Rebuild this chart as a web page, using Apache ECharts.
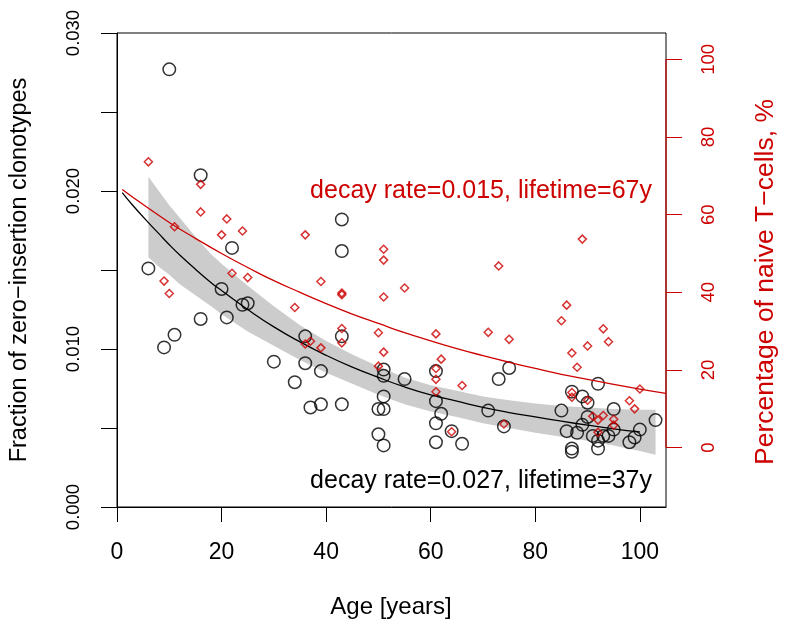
<!DOCTYPE html>
<html><head><meta charset="utf-8">
<script src="https://cdn.jsdelivr.net/npm/echarts@6/dist/echarts.min.js"></script>
<style>html,body{margin:0;padding:0;background:#fff}#c{width:788px;height:629px}</style>
</head><body><div id="c"></div>
<script>
// ---- data ----
const xTicks = [0, 20, 40, 60, 80, 100];
const rightTicks = [0, 20, 40, 60, 80, 100];

// black circles: fraction of zero-insertion clonotypes
const cloneAge = [6, 9, 10, 11, 16, 16, 20, 21, 22, 24, 25, 30, 34, 36, 36, 37, 39, 39, 43, 43, 43, 43,
  50, 50, 51, 51, 51, 51, 51, 55, 61, 61, 61, 61, 62, 64, 66, 71, 73, 74, 75,
  85, 86, 87, 87, 87, 88, 89, 89, 90, 90, 91, 92, 92, 92, 93, 94, 95, 95, 98, 99, 100, 103];
const cloneFrac = [0.0151, 0.0101, 0.0277, 0.0109, 0.0210, 0.0119, 0.0138, 0.0120, 0.0164, 0.0128, 0.0129, 0.0092, 0.0079, 0.0108, 0.0091, 0.0063, 0.0086, 0.0065, 0.0182, 0.0162, 0.0108, 0.0065,
  0.0062, 0.0046, 0.0087, 0.0083, 0.0070, 0.0062, 0.0039, 0.0081, 0.0086, 0.0067, 0.0053, 0.0041, 0.0059, 0.0048, 0.0040, 0.0061, 0.0081, 0.0051, 0.0088,
  0.0061, 0.0048, 0.0073, 0.0037, 0.0035, 0.0047, 0.0070, 0.0052, 0.0066, 0.0057, 0.0045, 0.0078, 0.0037, 0.0042, 0.0045, 0.0045, 0.0062, 0.0049, 0.0041, 0.0044, 0.0049, 0.0055];

// red diamonds: percentage of naive T-cells
const naiveAge = [6, 9, 10, 11, 16, 16, 20, 21, 22, 24, 25, 34, 36, 36, 37, 39, 39, 43, 43, 43, 43,
  50, 50, 51, 51, 51, 51, 55, 61, 61, 61, 61, 62, 64, 66, 71, 73, 74, 75,
  85, 86, 87, 87, 87, 88, 89, 90, 90, 91, 92, 92, 93, 93, 94, 95, 95, 98, 99, 100];
const naivePct = [73.6, 42.9, 39.7, 56.9, 67.8, 60.7, 54.8, 58.9, 44.9, 55.8, 43.8, 36.1, 54.8, 26.7, 27.4, 42.8, 25.7, 39.8, 39.4, 30.7, 27.0,
  29.6, 21.0, 51.1, 48.3, 38.8, 24.6, 41.1, 29.3, 20.4, 17.6, 14.4, 22.8, 4.1, 16.0, 29.7, 46.8, 6.1, 27.9,
  32.7, 36.7, 24.4, 14.2, 13.0, 20.7, 53.7, 26.2, 12.2, 8.1, 7.1, 4.0, 30.6, 8.3, 27.3, 7.3, 5.8, 12.1, 10.0, 15.1];

// black fitted curve
const fitAge  = [1, 3, 6, 8, 10, 12, 15, 18, 20, 25, 30, 35, 40, 45, 50, 55, 60, 65, 70, 75, 80, 85, 90, 95, 100];
const fitFrac = [0.0199, 0.0191, 0.0180, 0.0173, 0.0166, 0.01595, 0.01505, 0.0142, 0.0137, 0.0125, 0.0114, 0.01045, 0.0096, 0.00885, 0.0082, 0.0076, 0.0071, 0.0067, 0.0063, 0.00598, 0.0057, 0.00543, 0.00518, 0.00495, 0.00475];

// grey confidence band
const bandAge   = [6, 8, 10, 12, 15, 18, 20, 25, 30, 35, 40, 45, 50, 55, 60, 65, 70, 75, 80, 85, 90, 95, 100, 103];
const bandUpper = [0.0209, 0.0200, 0.0191, 0.0183, 0.0171, 0.0160, 0.0154, 0.0140, 0.0127, 0.0115, 0.0105, 0.00965, 0.0089, 0.0082, 0.0077, 0.00735, 0.0070, 0.00675, 0.00655, 0.0064, 0.0063, 0.0062, 0.00615, 0.00615];
const bandLower = [0.0158, 0.0152, 0.0147, 0.0141, 0.0134, 0.0127, 0.0122, 0.0111, 0.0102, 0.0093, 0.0085, 0.0078, 0.0071, 0.0065, 0.00605, 0.0057, 0.0053, 0.0050, 0.0047, 0.00445, 0.0042, 0.0039, 0.00355, 0.0033];

// red fitted curve
const naiveFitAge = [1, 5, 10, 15, 20, 25, 30, 35, 40, 45, 50, 55, 60, 65, 70, 75, 80, 85, 90, 95, 100, 105];
const naiveFitPct = [66.5, 62.6, 58.0, 53.9, 50.0, 46.4, 43.0, 40.0, 37.1, 34.4, 32.0, 29.6, 27.5, 25.5, 23.7, 22.0, 20.4, 18.9, 17.6, 16.3, 15.1, 14.0];

const X_MIN = 0, X_MAX = 105;
const YL_MIN = 0, YL_MAX = 0.03, YL_STEP = 0.005;
const YR_MIN = -15.27, YR_MAX = 106.77;

const RED = '#CD0000';
const FONT = '"Liberation Sans", Arial, Helvetica, sans-serif';

const chart = echarts.init(document.getElementById('c'), null, {renderer: 'canvas'});
const zip = (a, b) => a.map((v, i) => [v, b[i]]);

chart.setOption({
  animation: false,
  backgroundColor: '#fff',
  textStyle: {fontFamily: FONT},
  grid: {left: 117, right: 122, top: 33, bottom: 122, show: true, borderColor: '#000', borderWidth: 1, backgroundColor: 'transparent'},
  xAxis: {
    type: 'value', min: X_MIN, max: X_MAX, interval: 20,
    splitLine: {show: false},
    axisLine: {show: true, lineStyle: {color: '#000', width: 1}},
    axisTick: {show: true, length: 15, lineStyle: {color: '#000', width: 1}, customValues: xTicks},
    axisLabel: {show: true, customValues: xTicks, color: '#000', fontSize: 23, margin: 34, fontFamily: FONT}
  },
  yAxis: [{
    type: 'value', min: YL_MIN, max: YL_MAX, interval: YL_STEP, position: 'left',
    splitLine: {show: false},
    axisLine: {show: true, lineStyle: {color: '#000', width: 1}},
    axisTick: {show: true, length: 16, lineStyle: {color: '#000', width: 1}},
    axisLabel: {
      rotate: 90, color: '#000', fontSize: 18.5, margin: 34, fontFamily: FONT,
      formatter: v => (Math.round(v * 1000) % 10 === 0 ? v.toFixed(3) : '')
    }
  }, {
    type: 'value', min: YR_MIN, max: YR_MAX, position: 'right',
    splitLine: {show: false},
    axisLine: {show: false},
    axisTick: {show: true, length: 16, lineStyle: {color: RED, width: 1}, customValues: rightTicks},
    axisLabel: {customValues: rightTicks, rotate: 90, color: RED, fontSize: 18.5, margin: 33, fontFamily: FONT}
  }],
  series: [
    {
      type: 'custom', xAxisIndex: 0, yAxisIndex: 0, silent: true, z: 1,
      data: bandAge.map((a, i) => [a, bandUpper[i], bandLower[i]]),
      encode: {x: 0, y: [1, 2]},
      renderItem: function (params, api) {
        if (params.dataIndex !== 0) return null;
        const pts = [];
        for (let i = 0; i < bandAge.length; i++) pts.push(api.coord([bandAge[i], bandUpper[i]]));
        for (let i = bandAge.length - 1; i >= 0; i--) pts.push(api.coord([bandAge[i], bandLower[i]]));
        return {type: 'polygon', shape: {points: pts}, style: {fill: '#CCCCCC'}};
      }
    },
    {
      type: 'line', xAxisIndex: 0, yAxisIndex: 0, data: zip(fitAge, fitFrac), smooth: true,
      symbol: 'none', lineStyle: {color: '#000', width: 1.3}, z: 3, silent: true
    },
    {
      type: 'scatter', xAxisIndex: 0, yAxisIndex: 0, data: zip(cloneAge, cloneFrac),
      symbol: 'circle', symbolSize: 12.5,
      itemStyle: {color: 'rgba(0,0,0,0)', borderColor: '#000', borderWidth: 1.5}, z: 4, silent: true
    },
    {
      type: 'scatter', xAxisIndex: 0, yAxisIndex: 1, data: zip(naiveAge, naivePct),
      symbol: 'diamond', symbolSize: 8,
      itemStyle: {color: 'rgba(0,0,0,0)', borderColor: RED, borderWidth: 1.5}, z: 5, silent: true
    },
    {
      type: 'line', xAxisIndex: 0, yAxisIndex: 1, data: zip(naiveFitAge, naiveFitPct), smooth: true,
      symbol: 'none', lineStyle: {color: RED, width: 1.3}, z: 6, silent: true
    },
    {
      // red right-hand axis line spanning the 0..100 ticks
      type: 'line', xAxisIndex: 0, yAxisIndex: 1, data: [[X_MAX, rightTicks[0]], [X_MAX, rightTicks[rightTicks.length - 1]]],
      symbol: 'none', clip: false, lineStyle: {color: RED, width: 1.2}, z: 7, silent: true
    }
  ],
  graphic: [
    {type: 'text', x: 20, y: 270, rotation: Math.PI / 2,
     style: {text: 'Fraction of zero\u2212insertion clonotypes', fill: '#000', font: '23.5px ' + FONT, textAlign: 'center', textVerticalAlign: 'middle'}},
    {type: 'text', x: 766, y: 282, rotation: Math.PI / 2,
     style: {text: 'Percentage of naive T\u2212cells, %', fill: RED, font: '26.5px ' + FONT, textAlign: 'center', textVerticalAlign: 'middle'}},
    {type: 'text', x: 391, y: 607,
     style: {text: 'Age [years]', fill: '#000', font: '24px ' + FONT, textAlign: 'center', textVerticalAlign: 'middle'}},
    {type: 'text', x: 652, y: 191, z: 10,
     style: {text: 'decay rate=0.015, lifetime=67y', fill: RED, font: '25px ' + FONT, textAlign: 'right', textVerticalAlign: 'middle'}},
    {type: 'text', x: 652, y: 481, z: 10,
     style: {text: 'decay rate=0.027, lifetime=37y', fill: '#000', font: '25px ' + FONT, textAlign: 'right', textVerticalAlign: 'middle'}}
  ]
});
</script>
</body></html>
